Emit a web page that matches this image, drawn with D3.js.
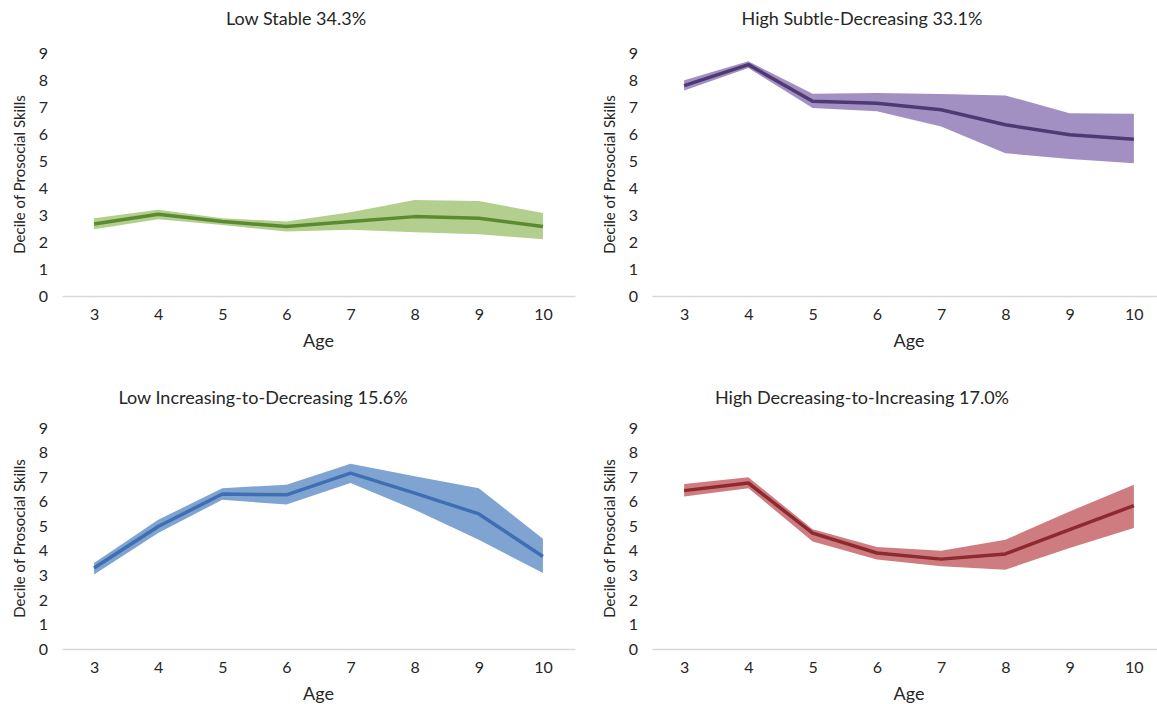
<!DOCTYPE html>
<html>
<head>
<meta charset="utf-8">
<script src="https://cdn.jsdelivr.net/npm/d3@7"></script>
<style>
    body { margin: 0; background: #fff; }
    text { font-family: Lato, "Open Sans", sans-serif; fill: #262626; }
</style>
</head>
<body>
<svg id="viewer" width="1157" height="704"></svg>
<script>

var ages = [3, 4, 5, 6, 7, 8, 9, 10];
var yTicks = [0, 1, 2, 3, 4, 5, 6, 7, 8, 9];

// low stable
var lowStable      = [2.67, 3.03, 2.76, 2.57, 2.76, 2.94, 2.88, 2.57];
var lowStableUpper = [2.88, 3.19, 2.88, 2.76, 3.10, 3.56, 3.52, 3.07];
var lowStableLower = [2.47, 2.84, 2.63, 2.39, 2.45, 2.36, 2.29, 2.10];

// high subtle-decreasing
var highSubtle      = [7.79, 8.57, 7.21, 7.14, 6.90, 6.34, 5.97, 5.81];
var highSubtleUpper = [7.99, 8.69, 7.49, 7.52, 7.48, 7.43, 6.77, 6.75];
var highSubtleLower = [7.61, 8.44, 6.96, 6.84, 6.28, 5.29, 5.07, 4.92];

// low increasing-to-decreasing
var lowIncDec      = [3.30, 4.99, 6.31, 6.28, 7.16, 6.35, 5.50, 3.77];
var lowIncDecUpper = [3.50, 5.26, 6.55, 6.69, 7.54, 7.03, 6.55, 4.49];
var lowIncDecLower = [3.03, 4.72, 6.08, 5.88, 6.76, 5.67, 4.45, 3.09];

// high decreasing-to-increasing
var highDecInc      = [6.45, 6.76, 4.72, 3.91, 3.66, 3.87, 4.86, 5.84];
var highDecIncUpper = [6.72, 6.99, 4.88, 4.15, 4.00, 4.45, 5.60, 6.69];
var highDecIncLower = [6.21, 6.55, 4.38, 3.64, 3.37, 3.23, 4.11, 4.93];

var titles = [
    'Low Stable 34.3%',
    'High Subtle-Decreasing 33.1%',
    'Low Increasing-to-Decreasing 15.6%',
    'High Decreasing-to-Increasing 17.0%'
];

var panels = [
    { title: titles[0], mid: lowStable, hi: lowStableUpper, lo: lowStableLower,
      band: '#b3cf8e', line: '#5b8a31',
      x0: 62, x1: 575, y0: 296, y9: 53, titleX: 296, titleY: 19 },
    { title: titles[1], mid: highSubtle, hi: highSubtleUpper, lo: highSubtleLower,
      band: '#a390c3', line: '#4d3a72',
      x0: 652, x1: 1166, y0: 296, y9: 53, titleX: 862, titleY: 19 },
    { title: titles[2], mid: lowIncDec, hi: lowIncDecUpper, lo: lowIncDecLower,
      band: '#80a4d1', line: '#3f6fb2',
      x0: 62, x1: 575, y0: 649, y9: 428, titleX: 263, titleY: 398 },
    { title: titles[3], mid: highDecInc, hi: highDecIncUpper, lo: highDecIncLower,
      band: '#cf7c80', line: '#8c2a30',
      x0: 652, x1: 1166, y0: 649, y9: 428, titleX: 862, titleY: 398 }
];

var svg = d3.select('#viewer');

panels.forEach(drawPanel);

function drawPanel(p) {

    var g = svg.append('g');

    var scaleX = d3.scalePoint()
        .domain(ages)
        .range([p.x0, p.x1])
        .padding(0.5);

    var scaleY = d3.scaleLinear()
        .domain([0, 9])
        .range([p.y0, p.y9]);

    // band

    var area = d3.area()
        .x(function(d, i) { return scaleX(ages[i]); })
        .y0(function(d, i) { return scaleY(p.lo[i]); })
        .y1(function(d, i) { return scaleY(p.hi[i]); });

    g.append('path')
        .datum(p.mid)
        .attr('d', area)
        .attr('fill', p.band);

    // axis

    var xAxis = d3.axisBottom(scaleX).tickSize(0).tickPadding(13);
    var yAxis = d3.axisLeft(scaleY).tickValues(yTicks).tickSize(0).tickPadding(14);

    var bottom = g.append('g')
        .attr('transform', `translate(0 ${p.y0})`)
        .call(xAxis);

    bottom.select('.domain')
        .attr('stroke', '#d9d9d9')
        .attr('stroke-width', 1.5);

    bottom.selectAll('text')
        .attr('font-size', 16)
        .attr('fill', '#262626');

    var left = g.append('g')
        .attr('transform', `translate(${p.x0} 0)`)
        .call(yAxis);

    left.select('.domain').remove();

    left.selectAll('text')
        .attr('font-size', 16)
        .attr('fill', '#262626');

    // line

    var line = d3.line()
        .x(function(d, i) { return scaleX(ages[i]); })
        .y(function(d) { return scaleY(d); });

    g.append('path')
        .datum(p.mid)
        .attr('d', line)
        .attr('fill', 'none')
        .attr('stroke', p.line)
        .attr('stroke-width', 3.5)
        .attr('stroke-linejoin', 'round');

    // labels

    g.append('text')
        .attr('x', p.titleX)
        .attr('y', p.titleY)
        .attr('dy', '0.35em')
        .attr('text-anchor', 'middle')
        .attr('font-size', 18)
        .text(p.title);

    var midX = (scaleX(ages[0]) + scaleX(ages[ages.length - 1])) / 2;

    g.append('text')
        .attr('x', midX)
        .attr('y', p.y0 + 45)
        .attr('dy', '0.35em')
        .attr('text-anchor', 'middle')
        .attr('font-size', 18)
        .text('Age');

    g.append('text')
        .attr('transform', `translate(${p.x0 - 42} ${(p.y0 + p.y9) / 2}) rotate(-90)`)
        .attr('dy', '0.35em')
        .attr('text-anchor', 'middle')
        .attr('font-size', 15)
        .text('Decile of Prosocial Skills');
}

</script>
</body>
</html>
